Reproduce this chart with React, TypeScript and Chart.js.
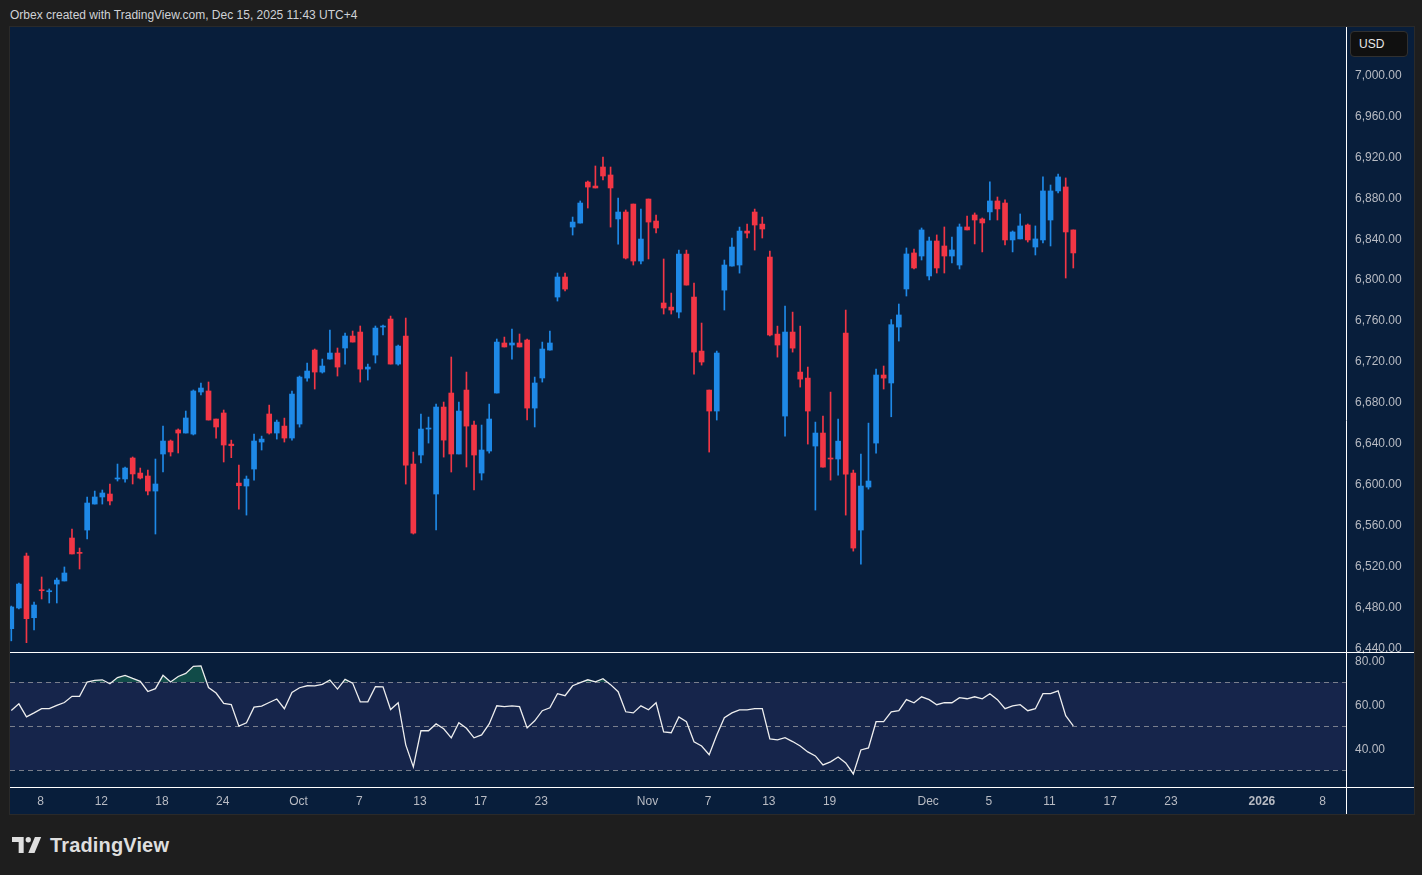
import React, { useEffect, useRef } from 'react';
import { Chart, registerables } from 'chart.js';

Chart.register(...registerables);

// ---- Candle data (12h bars, Sep 4 – Dec 12 2025) ----
const OPEN = [
  6457.9, 6478.1, 6528.9, 6468.6, 6496.0, 6494.0, 6501.5, 6504.5, 6546.5, 6532.2,
  6554.3, 6579.7, 6586.6, 6589.5, 6604.2, 6604.2, 6624.7, 6610.0, 6607.1, 6592.4,
  6628.6, 6641.3, 6652.1, 6649.1, 6648.1, 6689.2, 6690.2, 6662.8, 6668.7, 6638.3,
  6600.2, 6597.3, 6613.9, 6640.3, 6667.7, 6649.1, 6655.9, 6644.2, 6657.9, 6702.8,
  6730.2, 6708.7, 6721.4, 6727.3, 6732.2, 6743.9, 6747.8, 6711.6, 6725.3, 6752.7,
  6760.5, 6716.5, 6743.9, 6618.8, 6627.6, 6653.0, 6589.5, 6674.5, 6688.2, 6628.6,
  6691.1, 6656.9, 6610.0, 6631.5, 6688.2, 6737.1, 6735.1, 6737.1, 6740.0, 6673.5,
  6702.9, 6730.2, 6782.0, 6801.6, 6850.4, 6854.3, 6894.4, 6890.5, 6909.1, 6901.3,
  6858.3, 6865.1, 6872.9, 6817.2, 6877.8, 6856.3, 6776.2, 6772.2, 6767.3, 6824.0,
  6782.0, 6729.2, 6691.1, 6670.6, 6788.8, 6812.3, 6813.3, 6846.5, 6865.1, 6853.3,
  6821.1, 6745.8, 6665.7, 6747.8, 6708.7, 6702.8, 6636.4, 6649.1, 6624.6, 6623.7,
  6746.8, 6610.0, 6554.3, 6596.3, 6639.3, 6705.8, 6698.0, 6752.7, 6789.9, 6825.1,
  6822.1, 6802.6, 6836.8, 6831.9, 6822.1, 6813.3, 6850.5, 6862.2, 6858.3, 6865.2,
  6875.9, 6873.9, 6837.8, 6838.8, 6852.4, 6830.9, 6837.8, 6857.3, 6885.7, 6889.6,
  6847.6,
];
const HIGH = [
  6480.0, 6502.5, 6531.8, 6483.9, 6508.4, 6496.7, 6507.4, 6518.2, 6555.3, 6536.7,
  6586.6, 6592.4, 6593.4, 6599.3, 6618.8, 6615.9, 6625.7, 6614.9, 6613.0, 6623.7,
  6656.0, 6642.3, 6653.1, 6670.6, 6691.2, 6698.0, 6699.0, 6662.8, 6671.6, 6642.2,
  6617.8, 6607.1, 6648.1, 6646.1, 6676.4, 6661.8, 6663.7, 6690.1, 6704.8, 6717.5,
  6731.2, 6721.4, 6749.8, 6732.2, 6746.8, 6748.8, 6753.7, 6716.5, 6753.7, 6754.6,
  6763.4, 6735.1, 6761.5, 6630.5, 6667.7, 6664.7, 6677.4, 6679.4, 6723.4, 6679.4,
  6708.7, 6660.8, 6656.9, 6677.4, 6741.0, 6742.9, 6750.7, 6745.9, 6741.0, 6703.8,
  6738.0, 6748.8, 6805.5, 6805.5, 6860.2, 6875.9, 6895.4, 6910.1, 6918.9, 6909.1,
  6878.8, 6867.1, 6872.9, 6868.0, 6877.8, 6862.2, 6819.2, 6785.9, 6827.9, 6827.9,
  6795.7, 6756.6, 6691.1, 6729.2, 6818.2, 6839.7, 6850.4, 6853.3, 6868.0, 6860.2,
  6827.0, 6753.6, 6773.2, 6767.3, 6753.6, 6713.6, 6659.8, 6665.7, 6689.1, 6662.8,
  6769.3, 6612.9, 6628.5, 6658.8, 6711.6, 6714.6, 6760.0, 6775.2, 6830.0, 6829.0,
  6849.5, 6840.7, 6842.7, 6850.5, 6840.7, 6853.4, 6861.2, 6864.2, 6859.3, 6894.5,
  6879.8, 6876.9, 6846.6, 6863.2, 6853.4, 6851.5, 6899.4, 6891.5, 6902.3, 6898.4,
  6847.6,
];
const LOW = [
  6446.0, 6477.1, 6444.2, 6456.6, 6486.9, 6483.0, 6483.0, 6504.5, 6530.9, 6516.2,
  6545.5, 6579.7, 6579.7, 6578.8, 6602.2, 6601.2, 6599.3, 6604.2, 6588.5, 6550.4,
  6611.0, 6626.6, 6629.6, 6649.1, 6647.2, 6686.3, 6661.8, 6644.2, 6620.8, 6625.0,
  6574.8, 6568.9, 6603.1, 6632.5, 6648.1, 6643.2, 6640.3, 6642.2, 6654.9, 6699.9,
  6692.1, 6707.7, 6721.4, 6704.8, 6716.5, 6738.0, 6698.9, 6700.9, 6717.5, 6744.9,
  6716.5, 6715.5, 6599.2, 6550.4, 6619.8, 6639.3, 6554.3, 6625.6, 6611.0, 6628.6,
  6615.9, 6593.4, 6603.2, 6629.5, 6688.2, 6733.2, 6721.4, 6733.2, 6661.8, 6655.0,
  6698.9, 6730.2, 6778.1, 6787.9, 6842.6, 6854.3, 6869.0, 6888.6, 6896.4, 6850.4,
  6833.8, 6819.2, 6813.3, 6814.3, 6819.2, 6844.6, 6765.4, 6765.4, 6761.5, 6793.7,
  6706.7, 6715.5, 6630.5, 6661.8, 6769.3, 6812.3, 6805.4, 6839.7, 6827.9, 6839.7,
  6743.9, 6723.3, 6646.1, 6728.2, 6694.0, 6638.3, 6573.8, 6615.8, 6603.1, 6608.0,
  6568.9, 6533.7, 6521.0, 6594.3, 6629.5, 6692.1, 6665.0, 6739.0, 6783.0, 6809.4,
  6818.2, 6798.7, 6805.5, 6805.5, 6815.3, 6809.4, 6847.6, 6833.9, 6826.1, 6857.3,
  6857.3, 6832.9, 6826.1, 6838.8, 6835.8, 6823.1, 6834.8, 6831.9, 6883.7, 6800.6,
  6810.4,
];
const CLOSE = [
  6479.1, 6501.5, 6467.7, 6481.0, 6495.0, 6495.0, 6505.4, 6512.3, 6530.9, 6531.5,
  6580.7, 6586.6, 6590.5, 6582.7, 6605.1, 6614.9, 6609.1, 6605.1, 6592.4, 6599.3,
  6641.3, 6630.6, 6649.1, 6663.8, 6690.2, 6693.1, 6661.8, 6655.0, 6637.4, 6636.7,
  6597.6, 6604.1, 6641.3, 6643.2, 6649.1, 6659.8, 6644.2, 6687.2, 6703.8, 6709.7,
  6708.7, 6714.6, 6727.3, 6713.6, 6743.9, 6738.0, 6711.6, 6713.6, 6751.7, 6753.7,
  6716.5, 6734.1, 6617.8, 6551.3, 6653.0, 6654.0, 6674.5, 6642.2, 6628.6, 6670.6,
  6655.9, 6627.6, 6632.5, 6662.8, 6738.0, 6733.2, 6737.1, 6733.2, 6673.5, 6698.0,
  6731.2, 6737.1, 6801.6, 6789.8, 6855.3, 6873.9, 6889.5, 6888.6, 6900.3, 6888.6,
  6865.1, 6820.1, 6817.2, 6838.7, 6855.3, 6849.5, 6771.3, 6769.3, 6824.0, 6793.7,
  6728.2, 6718.5, 6670.6, 6727.3, 6813.3, 6830.9, 6846.5, 6844.5, 6852.4, 6848.5,
  6744.9, 6735.1, 6747.8, 6732.1, 6701.8, 6670.6, 6649.1, 6615.8, 6623.7, 6641.2,
  6609.0, 6536.7, 6597.3, 6602.2, 6705.8, 6702.8, 6755.0, 6764.5, 6824.1, 6810.4,
  6847.6, 6836.8, 6810.4, 6822.1, 6828.0, 6850.5, 6847.6, 6857.3, 6854.4, 6875.9,
  6868.1, 6837.8, 6845.6, 6851.5, 6837.8, 6838.8, 6885.7, 6885.7, 6899.4, 6845.6,
  6825.1,
];

// ---- RSI (14) values per bar ----
const RSI = [
  57.1, 60.1, 54.2, 56.0, 57.9, 57.9, 59.4, 60.7, 63.5, 63.5,
  70.0, 70.7, 71.0, 69.2, 72.0, 73.0, 71.6, 70.3, 65.7, 67.0,
  73.0, 70.0, 72.5, 73.9, 77.1, 77.3, 67.5, 65.0, 60.3, 59.8,
  50.0, 51.5, 58.6, 59.1, 60.7, 62.3, 57.9, 65.3, 67.4, 68.3,
  68.2, 68.9, 70.9, 66.8, 71.2, 69.5, 61.0, 61.0, 67.9, 67.8,
  57.5, 60.6, 41.5, 31.5, 47.9, 47.9, 51.0, 48.8, 44.7, 51.5,
  49.0, 44.7, 46.0, 51.0, 59.2, 58.8, 59.2, 58.8, 49.2, 52.4,
  57.0, 58.3, 64.7, 63.8, 68.3, 69.7, 71.0, 70.1, 71.5, 68.8,
  65.6, 56.5, 56.0, 59.2, 57.4, 60.6, 47.4, 47.0, 54.2, 52.0,
  42.9, 41.0, 37.0, 46.0, 53.8, 56.0, 57.4, 57.4, 57.9, 57.9,
  44.2, 43.8, 44.8, 43.0, 41.0, 38.3, 36.5, 32.4, 33.8, 36.0,
  33.3, 28.3, 39.2, 40.1, 52.0, 52.0, 56.5, 57.0, 62.0, 60.6,
  63.3, 62.0, 59.7, 60.6, 60.6, 62.9, 62.4, 63.3, 62.4, 64.7,
  62.0, 57.9, 59.2, 59.7, 57.0, 57.9, 64.7, 64.7, 66.0, 54.7,
  50.1,
];

const PRICE_TICKS = [6440, 6480, 6520, 6560, 6600, 6640, 6680, 6720, 6760, 6800, 6840, 6880, 6920, 6960, 7000];
const RSI_TICKS = [80, 60, 40];
const RSI_LEVELS = [70, 50, 30];
const X_TICK_BARS = [4, 12, 20, 28, 38, 46, 54, 62, 70, 84, 92, 100, 108, 121, 129, 137, 145, 153, 165, 173];
const X_TICK_LABELS = ['8', '12', '18', '24', 'Oct', '7', '13', '17', '23', 'Nov', '7', '13', '19', 'Dec', '5', '11', '17', '23', '2026', '8'];

const UP = '#1e89e7';
const DOWN = '#f23645';
const NAVY = '#081e3b';
const PAGE_BG = '#1e1e1e';
const TXT = '#b8bbc3';
const FONT = "'Liberation Sans', Arial, sans-serif";

const W = 1404;
const H = 787;

export default function App() {
  const ref = useRef<HTMLCanvasElement>(null);

  useEffect(() => {
    document.body.style.margin = '0';
    document.body.style.background = PAGE_BG;
    const canvas = ref.current;
    if (!canvas) return;

    const idx = OPEN.map((_, i) => i);
    const colors = idx.map((i) => (CLOSE[i] >= OPEN[i] ? UP : DOWN));

    const paneDecor = {
      id: 'paneDecor',
      beforeDatasetsDraw(chart: any) {
        const { ctx, chartArea } = chart;
        const r = chart.scales.rsi;
        const y70 = r.getPixelForValue(70);
        const y30 = r.getPixelForValue(30);
        ctx.save();
        ctx.fillStyle = 'rgba(126,87,194,0.12)';
        ctx.fillRect(chartArea.left, y70, chartArea.right - chartArea.left, y30 - y70);
        ctx.strokeStyle = 'rgba(140,143,153,0.85)';
        ctx.lineWidth = 1;
        ctx.setLineDash([5, 4]);
        for (const lv of RSI_LEVELS) {
          const y = Math.round(r.getPixelForValue(lv)) + 0.5;
          ctx.beginPath();
          ctx.moveTo(chartArea.left, y);
          ctx.lineTo(chartArea.right, y);
          ctx.stroke();
        }
        ctx.restore();
      },
      afterDraw(chart: any) {
        const { ctx, chartArea, width, height } = chart;
        const r = chart.scales.rsi;
        const yTop = Math.round(r.top) + 0.5;
        const yBot = Math.round(chartArea.bottom) + 0.5;
        const xR = Math.round(chartArea.right) + 0.5;
        ctx.save();
        ctx.strokeStyle = '#ffffff';
        ctx.lineWidth = 1;
        ctx.beginPath();
        ctx.moveTo(0, yTop);
        ctx.lineTo(width, yTop);
        ctx.moveTo(0, yBot);
        ctx.lineTo(width, yBot);
        ctx.moveTo(xR, 0);
        ctx.lineTo(xR, height);
        ctx.stroke();
        ctx.restore();
      },
    };

    const zeroPad = (s: any) => {
      s.paddingTop = 0;
      s.paddingBottom = 0;
      s.paddingLeft = 0;
      s.paddingRight = 0;
    };

    const tickFont = { family: FONT, size: 12 };

    const chart = new Chart(canvas, {
      type: 'bar',
      data: {
        datasets: [
          {
            type: 'bar',
            label: 'wick',
            data: idx.map((i) => ({ x: i, y: [LOW[i], HIGH[i]] })) as any,
            backgroundColor: colors,
            barThickness: 1,
            grouped: false,
            borderWidth: 0,
            yAxisID: 'y',
            order: 3,
          } as any,
          {
            type: 'bar',
            label: 'body',
            data: idx.map((i) => ({ x: i, y: [OPEN[i], CLOSE[i]] })) as any,
            backgroundColor: colors,
            barThickness: 5,
            minBarLength: 1,
            grouped: false,
            borderWidth: 0,
            yAxisID: 'y',
            order: 2,
          } as any,
          {
            type: 'line',
            label: 'RSI',
            data: idx.map((i) => ({ x: i, y: RSI[i] })) as any,
            borderColor: '#eeeeee',
            borderWidth: 1.3,
            pointRadius: 0,
            tension: 0,
            yAxisID: 'rsi',
            fill: { target: { value: 70 }, above: 'rgba(34,150,95,0.38)', below: 'rgba(0,0,0,0)' },
            order: 1,
          } as any,
        ],
      },
      options: {
        animation: false,
        responsive: false,
        maintainAspectRatio: false,
        events: [],
        layout: { padding: 0 },
        plugins: {
          legend: { display: false },
          tooltip: { enabled: false },
        },
        scales: {
          x: {
            type: 'linear',
            position: 'bottom',
            offset: false,
            min: -0.171,
            max: 175.95,
            grid: { display: false, drawTicks: false, offset: false },
            border: { display: false },
            afterBuildTicks: (s: any) => {
              s.ticks = X_TICK_BARS.map((v) => ({ value: v }));
            },
            afterFit: (s: any) => {
              s.height = 27;
              zeroPad(s);
            },
            ticks: {
              autoSkip: false,
              maxRotation: 0,
              minRotation: 0,
              padding: 7,
              labelOffset: -1,
              color: TXT,
              font: (c: any) => ({
                family: FONT,
                size: 12,
                weight: X_TICK_LABELS[c.index] === '2026' ? 'bold' : 'normal',
              }),
              callback: (_v: any, i: number) => X_TICK_LABELS[i],
            },
          },
          y: {
            type: 'linear',
            position: 'right',
            stack: 'panes',
            stackWeight: 625,
            min: 6435.1,
            max: 7045.93,
            grid: { display: false, drawTicks: false },
            border: { display: false },
            afterBuildTicks: (s: any) => {
              s.ticks = PRICE_TICKS.map((v) => ({ value: v }));
            },
            afterFit: (s: any) => {
              s.width = 68;
              zeroPad(s);
            },
            ticks: {
              autoSkip: false,
              padding: 9,
              labelOffset: 1.5,
              color: TXT,
              font: tickFont,
              callback: (v: any) =>
                Number(v).toLocaleString('en-US', { minimumFractionDigits: 2, maximumFractionDigits: 2 }),
            },
          },
          rsi: {
            type: 'linear',
            position: 'right',
            stack: 'panes',
            stackWeight: 135,
            min: 22.4,
            max: 83.6,
            grid: { display: false, drawTicks: false },
            border: { display: false },
            afterBuildTicks: (s: any) => {
              s.ticks = RSI_TICKS.map((v) => ({ value: v }));
            },
            afterFit: (s: any) => {
              s.width = 68;
              zeroPad(s);
            },
            ticks: {
              autoSkip: false,
              padding: 9,
              labelOffset: 1.5,
              color: TXT,
              font: tickFont,
              callback: (v: any) => Number(v).toFixed(2),
            },
          },
        } as any,
      },
      plugins: [paneDecor],
    } as any);

    return () => chart.destroy();
  }, []);

  return (
    <div
      style={{
        position: 'relative',
        width: 1422,
        height: 875,
        background: PAGE_BG,
        overflow: 'hidden',
        fontFamily: FONT,
      }}
    >
      <div
        style={{
          position: 'absolute',
          left: 10,
          top: 7,
          fontSize: 12,
          lineHeight: '16px',
          color: '#d0d2d6',
          whiteSpace: 'nowrap',
        }}
      >
        Orbex created with TradingView.com, Dec 15, 2025 11:43 UTC+4
      </div>
      <div
        style={{
          position: 'absolute',
          left: 10,
          top: 27,
          width: W,
          height: H,
          background: NAVY,
          boxShadow: '0 0 0 1px #2a2a2a',
        }}
      >
        <canvas ref={ref} width={W} height={H} style={{ display: 'block', width: W, height: H }} />
        <div
          style={{
            position: 'absolute',
            left: 1340,
            top: 4,
            width: 58,
            height: 26,
            boxSizing: 'border-box',
            background: '#101010',
            border: '1px solid #303030',
            borderRadius: 4,
            color: '#e8e8e8',
            fontSize: 12,
            lineHeight: '24px',
            paddingLeft: 8,
          }}
        >
          USD
        </div>
      </div>
      <svg
        style={{ position: 'absolute', left: 12, top: 837 }}
        width={30}
        height={16}
        viewBox="0 0 36 19"
      >
        <path d="M14 19H8V6H0V0h14z" fill="#dedede" />
        <circle cx="19.5" cy="3.2" r="3.2" fill="#dedede" />
        <path d="M27 19h-7.5L27.5 0H35z" fill="#dedede" />
      </svg>
      <div
        style={{
          position: 'absolute',
          left: 50,
          top: 835,
          fontSize: 20,
          fontWeight: 'bold',
          lineHeight: '20px',
          color: '#dedede',
          whiteSpace: 'nowrap',
          letterSpacing: '0.15px',
        }}
      >
        TradingView
      </div>
    </div>
  );
}
